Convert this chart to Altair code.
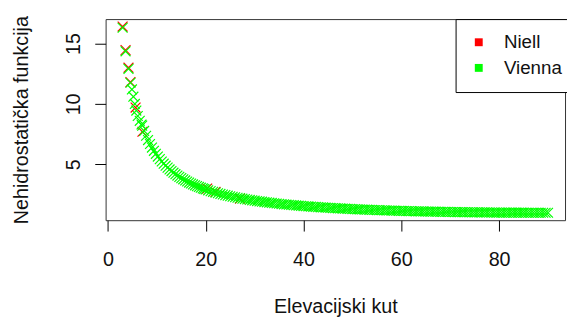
import altair as alt
import pandas as pd

# Niell (red) points
niell_elev = [3.0, 3.6, 4.2, 4.6, 5.65, 7.06, 20.3, 22.0, 27.0]
niell_val = [16.4, 14.45, 13.0, 11.8, 9.7, 7.7, 3.0, 2.72, 2.17]

# Vienna (green) points
vienna_elev = [
    3.0, 3.6, 4.2, 4.6, 4.9, 5.2, 5.5, 5.8, 6.1, 6.5, 6.86,
    7.0, 7.4, 7.8, 8.2, 8.6, 9.0, 9.4, 9.8, 10.2, 10.6, 11.0, 11.4, 11.8,
    12.2, 12.6, 13.0, 13.4, 13.8, 14.2, 14.6, 15.0, 15.4, 15.8, 16.2, 16.6,
    17.0, 17.4, 17.8, 18.2, 18.6, 19.0, 19.4, 19.7,
    20.0, 20.5, 21.0, 21.5, 22.0, 22.5, 23.0, 23.5, 24.0, 24.5, 25.0, 25.5,
    26.0, 26.5, 27.0, 27.5, 28.0, 28.5, 29.0, 29.5, 30.0, 30.5, 31.0, 31.5,
    32.0, 32.5, 33.0, 33.5, 34.0, 34.5, 35.0, 35.5, 36.0, 36.5, 37.0, 37.5,
    38.0, 38.5, 39.0, 39.5, 40.0, 40.5, 41.0, 41.5, 42.0, 42.5, 43.0, 43.5,
    44.0, 44.5, 45.0, 45.5, 46.0, 46.5, 47.0, 47.5, 48.0, 48.5, 49.0, 49.5,
    50.0, 50.5, 51.0, 51.5, 52.0, 52.5, 53.0, 53.5, 54.0, 54.5, 55.0, 55.5,
    56.0, 56.5, 57.0, 57.5, 58.0, 58.5, 59.0, 59.5, 60.0, 60.5, 61.0, 61.5,
    62.0, 62.5, 63.0, 63.5, 64.0, 64.5, 65.0, 65.5, 66.0, 66.5, 67.0, 67.5,
    68.0, 68.5, 69.0, 69.5, 70.0, 70.5, 71.0, 71.5, 72.0, 72.5, 73.0, 73.5,
    74.0, 74.5, 75.0, 75.5, 76.0, 76.5, 77.0, 77.5, 78.0, 78.5, 79.0, 79.5,
    80.0, 80.5, 81.0, 81.5, 82.0, 82.5, 83.0, 83.5, 84.0, 84.5, 85.0, 85.5,
    86.0, 86.5, 87.0, 87.5, 88.0, 88.5, 89.0, 89.5, 90.0,
]
vienna_val = [
    16.3, 14.35, 12.9, 11.75, 11.2, 10.6, 10.0, 9.45, 9.0, 8.6, 8.3,
    8.206, 7.764, 7.368, 7.011, 6.687, 6.392, 6.123, 5.875, 5.647, 5.436, 5.241, 5.059, 4.890,
    4.732, 4.584, 4.445, 4.315, 4.192, 4.076, 3.967, 3.864, 3.766, 3.673, 3.584, 3.500,
    3.420, 3.344, 3.271, 3.202, 3.135, 3.072, 3.011, 2.967,
    2.924, 2.855, 2.790, 2.729, 2.669, 2.613, 2.559, 2.508, 2.459, 2.411, 2.366, 2.323,
    2.281, 2.241, 2.203, 2.166, 2.130, 2.096, 2.063, 2.031, 2.000, 1.970, 1.942, 1.914,
    1.887, 1.861, 1.836, 1.812, 1.788, 1.766, 1.743, 1.722, 1.701, 1.681, 1.662, 1.643,
    1.624, 1.606, 1.589, 1.572, 1.556, 1.540, 1.524, 1.509, 1.494, 1.480, 1.466, 1.453,
    1.440, 1.427, 1.414, 1.402, 1.390, 1.379, 1.367, 1.356, 1.346, 1.335, 1.325, 1.315,
    1.305, 1.296, 1.287, 1.278, 1.269, 1.260, 1.252, 1.244, 1.236, 1.228, 1.221, 1.213,
    1.206, 1.199, 1.192, 1.186, 1.179, 1.173, 1.167, 1.161, 1.155, 1.149, 1.143, 1.138,
    1.133, 1.127, 1.122, 1.117, 1.113, 1.108, 1.103, 1.099, 1.095, 1.090, 1.086, 1.082,
    1.079, 1.075, 1.071, 1.068, 1.064, 1.061, 1.058, 1.055, 1.051, 1.049, 1.046, 1.043,
    1.040, 1.038, 1.035, 1.033, 1.031, 1.028, 1.026, 1.024, 1.022, 1.021, 1.019, 1.017,
    1.015, 1.014, 1.012, 1.011, 1.010, 1.009, 1.008, 1.006, 1.006, 1.005, 1.004, 1.003,
    1.002, 1.002, 1.001, 1.001, 1.001, 1.000, 1.000, 1.000, 1.000,
]

series = ["Niell", "Vienna"]
colors = ["#ff0000", "#00ff00"]
x_ticks = [0, 20, 40, 60, 80]
y_ticks = [5, 10, 15]

df = pd.concat([
    pd.DataFrame({"elev": niell_elev, "val": niell_val, "model": "Niell"}),
    pd.DataFrame({"elev": vienna_elev, "val": vienna_val, "model": "Vienna"}),
], ignore_index=True)
df["order"] = range(len(df))

FONT = "Liberation Sans"
XPATH = "M-1,-1L1,1M-1,1L1,-1"

chart = alt.Chart(df).mark_point(
    shape=XPATH, size=100, strokeWidth=1.2, opacity=1
).encode(
    x=alt.X("elev:Q",
            scale=alt.Scale(domain=[-0.48, 93.48], nice=False, zero=False),
            axis=alt.Axis(values=x_ticks, title="Elevacijski kut", grid=False,
                          domain=False, tickSize=11, tickColor="black",
                          labelFontSize=20, labelFont=FONT, labelColor="#111",
                          labelBaseline="alphabetic", labelAlign="center",
                          labelPadding=35, labelFlush=False,
                          titleFontSize=20, titleFont=FONT, titleFontWeight="normal",
                          titleColor="#111", titleX=233, titleY=94,
                          titleBaseline="alphabetic", titleAlign="center")),
    y=alt.Y("val:Q",
            scale=alt.Scale(domain=[0.384, 17.016], nice=False, zero=False),
            axis=alt.Axis(values=y_ticks, title="Nehidrostatička funkcija", grid=False,
                          domain=False, tickSize=11, tickColor="black",
                          labelFontSize=20, labelFont=FONT, labelColor="#111",
                          labelAngle=270, labelAlign="center", labelBaseline="alphabetic",
                          labelPadding=15, labelFlush=False,
                          titleFontSize=20, titleFont=FONT, titleFontWeight="normal",
                          titleColor="#111", titleAngle=270, titleX=-79.5, titleY=102,
                          titleBaseline="alphabetic", titleAlign="center")),
    fill=alt.Fill("model:N",
                  scale=alt.Scale(domain=series, range=colors),
                  legend=alt.Legend(title=None, orient="none", legendX=355, legendY=0,
                                    symbolType="square", symbolSize=64,
                                    symbolStrokeWidth=0, symbolOpacity=1,
                                    labelFontSize=19, labelFont=FONT, labelColor="#111",
                                    labelOffset=16, rowPadding=6, padding=14,
                                    strokeColor="black", fillColor="white")),
    stroke=alt.Stroke("model:N",
                      scale=alt.Scale(domain=series, range=colors),
                      legend=None),
    order=alt.Order("order:Q"),
).properties(
    width=466, height=204,
    autosize=alt.AutoSizeParams(type="none"),
    padding={"left": 99, "top": 9, "right": 2, "bottom": 101},
).configure_view(
    stroke="#333", strokeWidth=1
)

chart.save("out.html", embed_options={"renderer": "svg", "actions": False})
